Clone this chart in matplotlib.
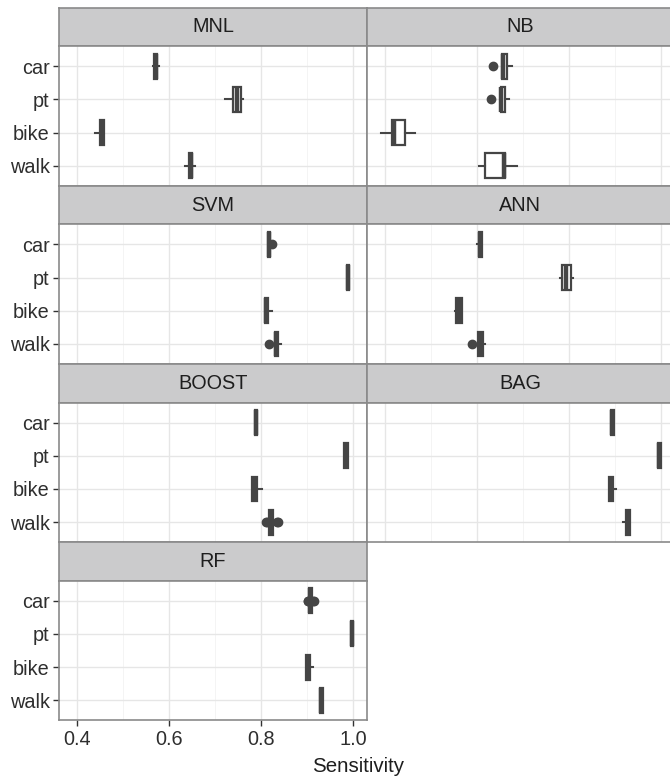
import matplotlib
matplotlib.use("Agg")
import matplotlib.pyplot as plt

plt.rcParams['font.family'] = ['Liberation Sans', 'DejaVu Sans']

models = ["MNL", "NB", "SVM", "ANN", "BOOST", "BAG", "RF"]
modes = ["car", "pt", "bike", "walk"]
x_ticks = [0.4, 0.6, 0.8, 1.0]
x_tick_labels = ["0.4", "0.6", "0.8", "1.0"]
x_label = "Sensitivity"

# five-number summaries per model, in order car, pt, bike, walk
whislo = {
    "MNL":   [0.564, 0.721, 0.4385, 0.634],
    "NB":    [0.656, 0.652, 0.391, 0.605],
    "SVM":   [0.815, 0.987, 0.808, 0.829],
    "ANN":   [0.6007, 0.781, 0.553, 0.602],
    "BOOST": [0.7857, 0.9798, 0.7807, 0.8167],
    "BAG":   [0.8913, 0.9941, 0.8876, 0.918],
    "RF":    [0.9037, 0.9943, 0.8972, 0.927],
}
q1 = {
    "MNL":   [0.567, 0.739, 0.449, 0.6428],
    "NB":    [0.656, 0.652, 0.416, 0.619],
    "SVM":   [0.8152, 0.987, 0.808, 0.829],
    "ANN":   [0.6043, 0.7854, 0.5557, 0.602],
    "BOOST": [0.7857, 0.9798, 0.7807, 0.8167],
    "BAG":   [0.8913, 0.9941, 0.8876, 0.9254],
    "RF":    [0.9037, 0.9943, 0.8972, 0.927],
}
med = {
    "MNL":   [0.571, 0.748, 0.454, 0.6465],
    "NB":    [0.658, 0.654, 0.420, 0.660],
    "SVM":   [0.817, 0.9885, 0.811, 0.832],
    "ANN":   [0.608, 0.7948, 0.561, 0.607],
    "BOOST": [0.788, 0.985, 0.785, 0.8207],
    "BAG":   [0.895, 0.997, 0.8915, 0.929],
    "RF":    [0.9065, 0.997, 0.902, 0.930],
}
q3 = {
    "MNL":   [0.574, 0.755, 0.4587, 0.650],
    "NB":    [0.666, 0.6615, 0.445, 0.6626],
    "SVM":   [0.8193, 0.990, 0.8146, 0.8357],
    "ANN":   [0.6122, 0.805, 0.5674, 0.613],
    "BOOST": [0.7913, 0.989, 0.7898, 0.8246],
    "BAG":   [0.8991, 0.9998, 0.8954, 0.9333],
    "RF":    [0.9093, 1.000, 0.9065, 0.9333],
}
whishi = {
    "MNL":   [0.577, 0.761, 0.4587, 0.656],
    "NB":    [0.676, 0.670, 0.465, 0.688],
    "SVM":   [0.8193, 0.990, 0.8226, 0.842],
    "ANN":   [0.612, 0.809, 0.5674, 0.618],
    "BOOST": [0.7913, 0.989, 0.8009, 0.8246],
    "BAG":   [0.8991, 0.9998, 0.902, 0.9333],
    "RF":    [0.9093, 1.000, 0.9117, 0.9333],
}
outliers = {
    "MNL":   [[], [], [], []],
    "NB":    [[0.635], [0.631], [], []],
    "SVM":   [[0.824], [], [], [0.817]],
    "ANN":   [[], [], [], [0.589]],
    "BOOST": [[], [], [], [0.8096, 0.812, 0.833, 0.8357]],
    "BAG":   [[], [], [], []],
    "RF":    [[0.9015, 0.9025, 0.9125, 0.914], [], [], []],
}

W, H = 670, 778
fig = plt.figure(figsize=(W / 100, H / 100), dpi=100)

def rect(x0, x1, ytop, ybot):
    return [x0 / W, 1 - ybot / H, (x1 - x0) / W, (ybot - ytop) / H]

col_x = [(59.3, 366.7), (366.7, 674.0)]
row_top0 = 7.5
row_h = 178.2
strip_h = 38.7

box_col = "#454545"
border_col = "#8a8a8a"
strip_fill = "#cbcbcc"
text_col = "#2e2e2e"

ypos = list(range(len(modes), 0, -1))

for i, m in enumerate(models):
    r, c = divmod(i, 2)
    x0, x1 = col_x[c]
    top = row_top0 + r * row_h
    # strip
    sax = fig.add_axes(rect(x0, x1, top, top + strip_h))
    sax.set_facecolor(strip_fill)
    sax.set_xticks([]); sax.set_yticks([])
    for s in sax.spines.values():
        s.set_color(border_col); s.set_linewidth(1.2)
    sax.text(0.5, 0.5, m, ha="center", va="center", fontsize=14.3,
             color="#1e1e1e", transform=sax.transAxes)
    # panel
    ax = fig.add_axes(rect(x0, x1, top + strip_h, top + row_h))
    ax.set_xlim(0.361, 1.029)
    ax.set_ylim(0.4, len(modes) + 0.6)
    ax.set_xticks(x_ticks)
    ax.set_xticks([0.5, 0.7, 0.9], minor=True)
    ax.set_yticks(ypos)
    ax.grid(True, which="major", color="#e6e6e6", linewidth=1.0)
    ax.grid(True, which="minor", axis="x", color="#f2f2f2", linewidth=0.6)
    ax.set_axisbelow(True)
    for s in ax.spines.values():
        s.set_color(border_col); s.set_linewidth(1.2)
    ax.tick_params(which="minor", length=0)
    if c == 0:
        ax.tick_params(axis="y", length=4, width=1.0, color="#333333", pad=3)
    else:
        ax.tick_params(axis="y", length=0, labelleft=False)
    if m == "RF":
        ax.tick_params(axis="x", length=4, width=1.0, color="#333333", pad=3)
    else:
        ax.tick_params(axis="x", length=0, labelbottom=False)

    stats = []
    for k, mode in enumerate(modes):
        stats.append(dict(whislo=whislo[m][k], q1=q1[m][k], med=med[m][k],
                          q3=q3[m][k], whishi=whishi[m][k],
                          fliers=outliers[m][k], label=mode))
    ax.bxp(stats, positions=ypos, widths=0.75, orientation="horizontal",
           showcaps=False, patch_artist=True,
           boxprops=dict(facecolor="white", edgecolor=box_col, linewidth=1.6),
           medianprops=dict(color=box_col, linewidth=3.2),
           whiskerprops=dict(color=box_col, linewidth=1.5),
           flierprops=dict(marker="o", markerfacecolor=box_col,
                           markeredgecolor=box_col, markersize=6))
    ax.set_yticks(ypos)
    ax.set_xticks(x_ticks)
    if c == 0:
        ax.set_yticklabels(modes, fontsize=14.3, color=text_col)
    else:
        ax.set_yticklabels([])
    if m == "RF":
        ax.set_xticklabels(x_tick_labels, fontsize=14.3, color=text_col)
    else:
        ax.set_xticklabels([])

fig.text(358.5 / W, 1 - 766 / H, x_label, ha="center", va="center",
         fontsize=14.8, color="#1e1e1e")

fig.savefig("out.png", dpi=100)
